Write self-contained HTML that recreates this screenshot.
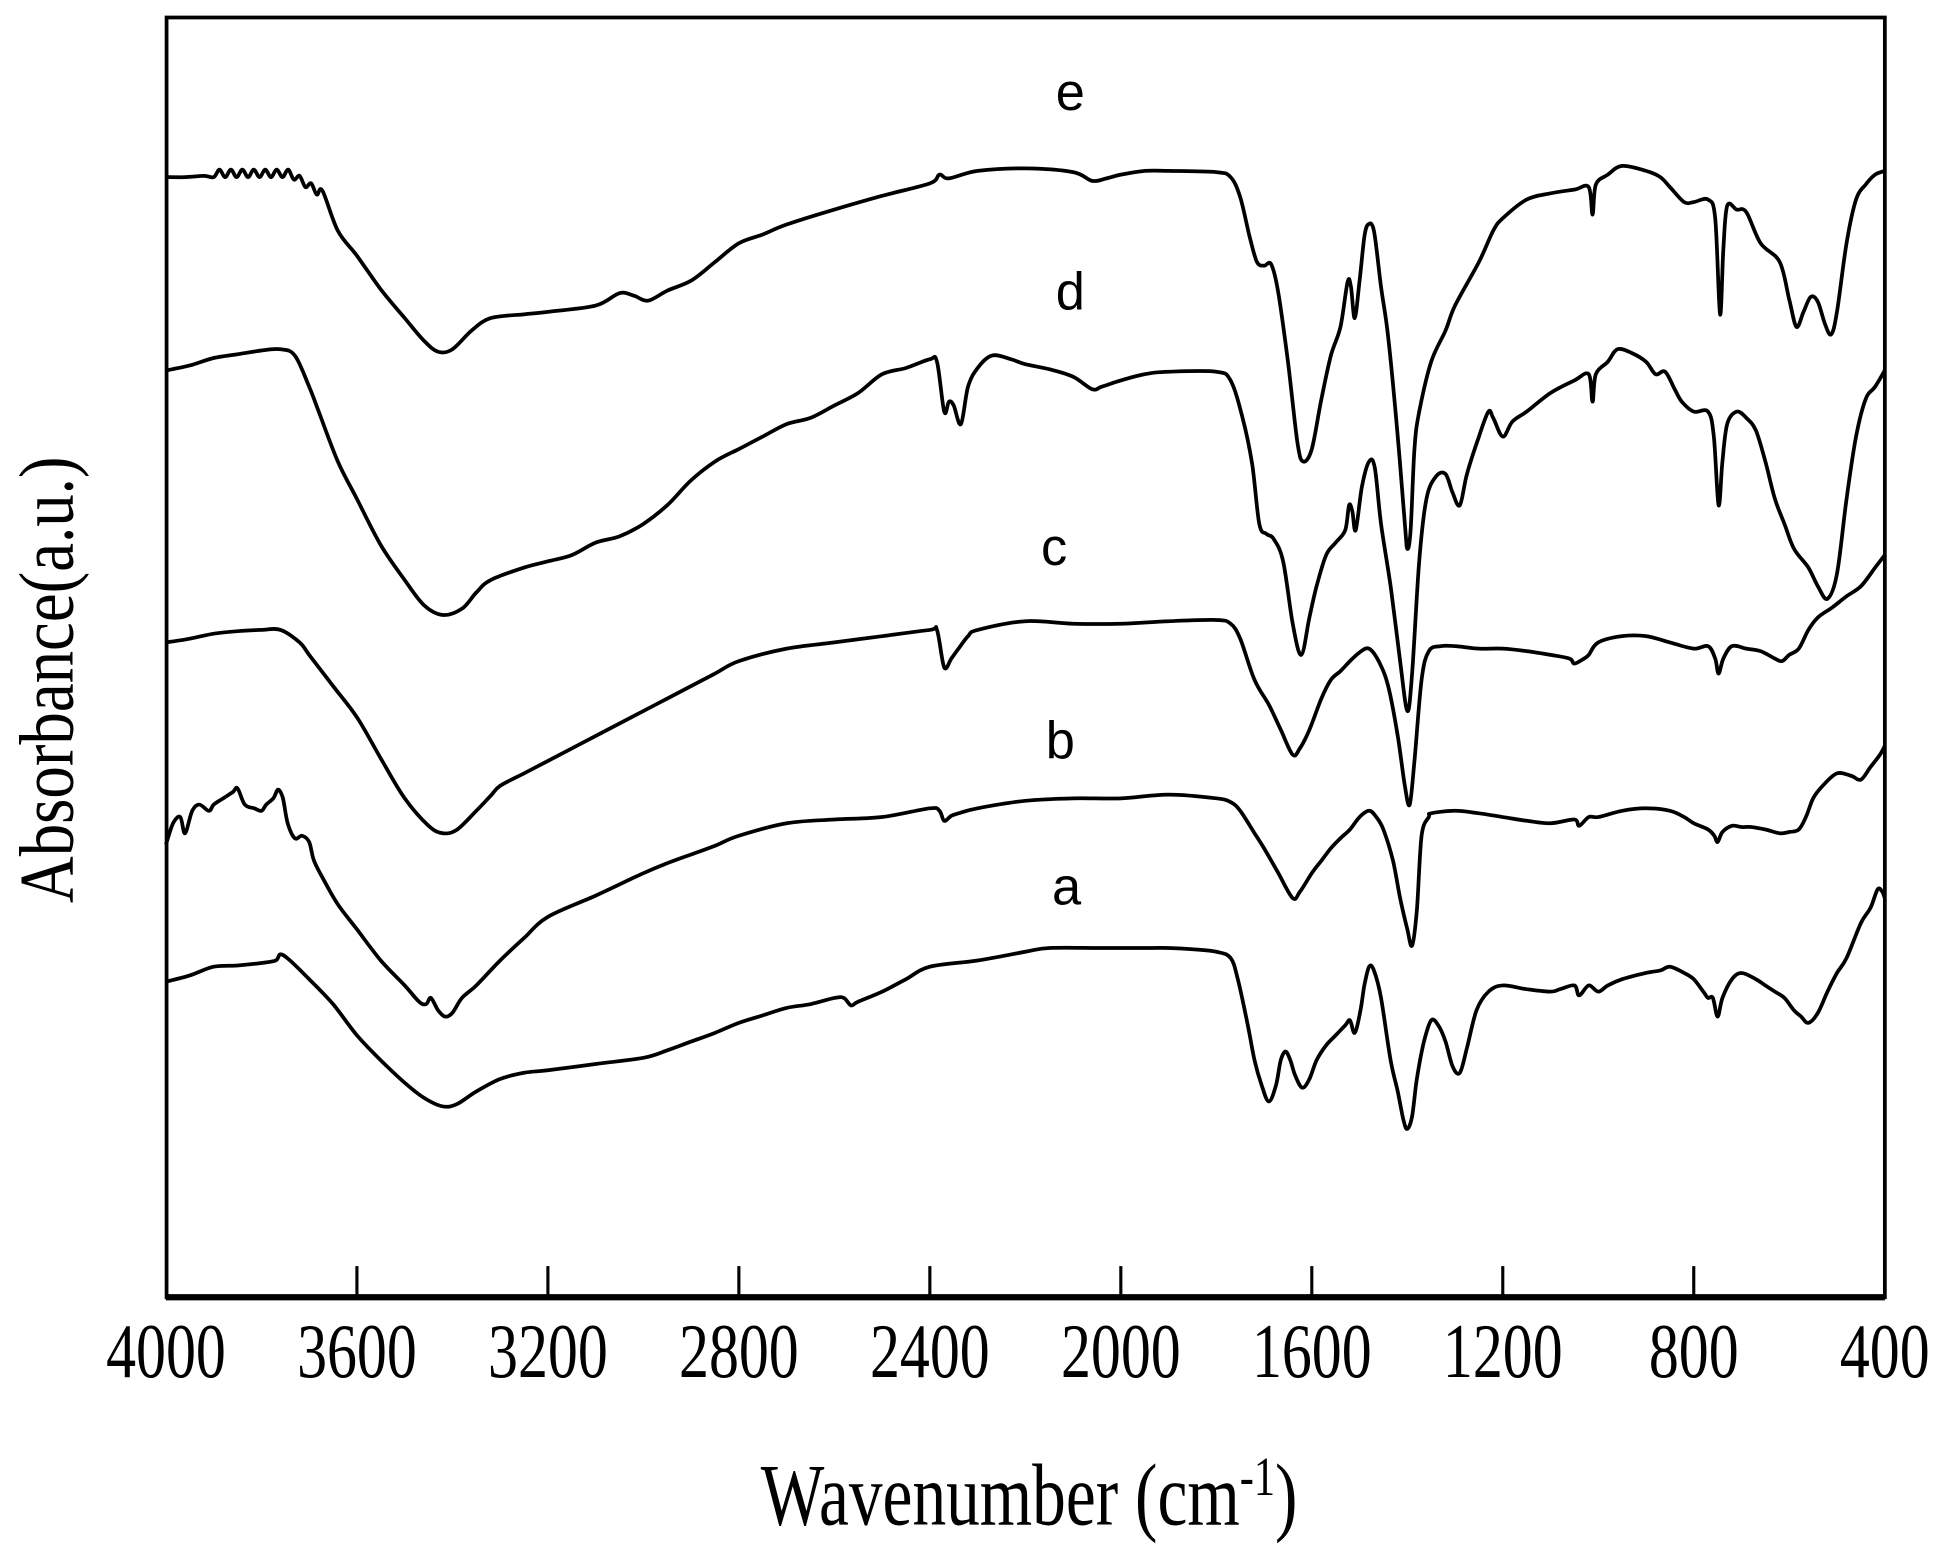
<!DOCTYPE html>
<html><head><meta charset="utf-8"><style>html,body{margin:0;padding:0;background:#fff}svg{display:block}</style></head>
<body>
<svg id="s" width="1956" height="1553" viewBox="0 0 1568 1245" xmlns="http://www.w3.org/2000/svg">
<rect width="1568" height="1245" fill="#fff"/>
<g id="curves" fill="none" stroke="#000" stroke-width="3" stroke-linejoin="round"></g>
<path d="M133.5 14 V1040 H1511 V14 Z" fill="none" stroke="#000" stroke-width="3"/>
<line x1="133" y1="1040" x2="1511" y2="1040" stroke="#000" stroke-width="5"/>
<g id="ticks" stroke="#000" stroke-width="2.5"></g>
<g font-family="Liberation Serif, serif" font-size="48" text-anchor="middle" id="tl"></g>
<text transform="translate(825,1222) scale(1,1.3)" font-family="Liberation Serif, serif" font-size="54" text-anchor="middle">Wavenumber (cm<tspan dy="-18" font-size="34">-1</tspan><tspan dy="18">)</tspan></text>
<text transform="translate(58,545) rotate(-90) scale(1,1.2)" font-family="Liberation Serif, serif" font-size="52" text-anchor="middle">Absorbance(a.u.)</text>
<g font-family="Liberation Sans, sans-serif" font-size="42" text-anchor="middle">
<text x="858" y="88">e</text><text x="858" y="248">d</text><text x="845" y="453">c</text><text x="850" y="608">b</text><text x="855" y="725">a</text>
</g>
</svg>
<script>
var X=function(w){return 133+(4000-w)/400*153.1;};
var ns="http://www.w3.org/2000/svg";
var tk=document.getElementById('ticks'),tl=document.getElementById('tl');
for(var w=4000;w>=400;w-=400){
 var x=X(w);
 if(w<4000&&w>400){var l=document.createElementNS(ns,'line');l.setAttribute('x1',x);l.setAttribute('x2',x);l.setAttribute('y1',1040);l.setAttribute('y2',1015);tk.appendChild(l);}
 var t=document.createElementNS(ns,'text');t.setAttribute('transform','translate('+x+',1104) scale(1,1.3)');t.textContent=w;tl.appendChild(t);
}
var eNoise=[],sg=1;
for(var w=3900;w>=3672;w-=12){var base=w>3740?139:139+(3740-w)*0.25;eNoise.push(w,base+sg*3);sg=-sg;}
var D={
e:[4000,142,3960,142,3920,141].concat(eNoise,[3640,185,3600,205,3550,232,3500,255,3460,273,3430,282,3400,280,3360,265,3320,255,3250,252,3200,250,3100,245,3050,235,3020,237,2990,241,2950,233,2900,225,2850,210,2800,195,2750,188,2700,180,2600,168,2500,157,2400,147,2380,140,2360,143,2300,137,2200,135,2100,138,2060,145,2030,143,2000,140,1950,137,1900,137,1800,138,1770,142,1750,158,1730,190,1715,210,1700,213,1685,212,1670,235,1650,290,1630,355,1618,370,1600,360,1580,320,1560,285,1540,262,1525,226,1518,230,1510,255,1500,225,1490,190,1482,180,1470,185,1455,230,1440,270,1420,350,1405,420,1400,440,1393,425,1385,360,1375,330,1350,290,1320,265,1300,245,1250,210,1220,185,1200,175,1150,160,1100,155,1050,152,1020,150,1012,172,1005,148,980,140,950,133,900,137,870,142,850,150,820,162,800,162,770,160,755,175,745,252,738,200,730,165,710,168,690,170,660,195,620,210,600,240,585,262,570,250,555,238,540,242,525,260,512,268,500,250,480,195,460,160,440,148,420,140,400,137]),
d:[4000,297,3950,293,3900,287,3850,284,3800,281,3760,280,3730,285,3700,310,3680,330,3640,370,3600,400,3550,437,3500,465,3460,485,3420,493,3380,488,3350,475,3320,465,3250,455,3200,450,3150,445,3100,435,3050,430,3000,420,2950,405,2900,385,2850,370,2800,360,2750,350,2700,340,2650,335,2600,325,2550,315,2500,300,2450,295,2400,288,2385,290,2370,330,2360,322,2350,325,2335,340,2320,310,2300,295,2270,285,2230,288,2200,292,2150,296,2100,302,2060,312,2040,310,2000,305,1950,300,1900,298,1800,298,1770,305,1745,335,1725,372,1710,420,1695,428,1680,432,1660,450,1640,500,1622,525,1605,495,1590,470,1570,445,1550,435,1530,425,1522,405,1515,410,1508,425,1495,390,1480,370,1468,375,1455,420,1435,470,1415,530,1400,570,1390,540,1375,450,1360,400,1340,382,1320,380,1305,395,1290,405,1275,380,1250,350,1230,330,1220,335,1200,350,1180,338,1150,330,1100,315,1050,305,1020,300,1012,322,1005,300,980,290,960,280,930,283,900,290,880,300,860,298,840,312,825,322,800,330,770,330,758,350,748,405,740,370,730,340,710,330,690,335,670,345,650,370,630,400,610,420,590,440,560,455,540,470,520,480,500,460,480,400,460,350,440,320,420,310,400,297],
c:[4000,515,3950,512,3900,508,3850,506,3800,505,3760,505,3720,515,3700,525,3650,550,3600,575,3550,608,3500,640,3450,662,3420,668,3390,665,3350,650,3320,638,3300,630,3250,620,3200,610,3100,590,3000,570,2950,560,2900,550,2850,540,2800,530,2700,520,2600,515,2500,510,2400,505,2385,505,2370,535,2355,528,2340,520,2320,510,2300,505,2200,498,2100,500,2000,500,1900,498,1800,497,1770,500,1750,512,1720,545,1690,565,1665,585,1640,605,1625,600,1605,585,1580,560,1560,545,1540,538,1520,530,1500,523,1480,520,1460,530,1440,550,1420,590,1405,630,1395,645,1385,610,1370,545,1355,522,1330,518,1300,518,1250,520,1200,520,1150,522,1100,525,1060,528,1050,532,1030,528,1020,525,1000,515,950,510,900,510,850,515,800,520,770,518,755,528,748,540,738,528,720,518,690,520,660,522,630,528,615,530,600,525,580,520,560,505,540,495,510,487,480,478,450,470,420,455,400,445],
b:[4000,677,3985,660,3970,655,3960,668,3945,650,3930,645,3910,650,3900,645,3880,640,3860,635,3850,632,3835,645,3815,648,3800,650,3790,645,3775,640,3765,633,3755,640,3745,660,3730,672,3715,670,3700,675,3690,690,3670,705,3640,725,3600,745,3550,770,3500,790,3470,803,3455,805,3445,800,3430,810,3415,815,3400,812,3380,800,3350,790,3300,770,3250,752,3200,735,3100,718,3000,700,2950,692,2900,685,2850,678,2800,670,2700,660,2600,657,2500,655,2400,648,2380,650,2370,658,2355,654,2340,652,2300,648,2200,642,2100,640,2000,640,1900,637,1800,640,1770,643,1750,650,1720,668,1700,680,1670,700,1640,720,1625,715,1600,700,1580,690,1560,680,1540,672,1520,665,1500,655,1480,650,1465,655,1450,665,1430,690,1415,720,1400,745,1390,758,1380,730,1370,670,1355,655,1350,652,1300,650,1250,652,1200,655,1150,658,1100,660,1050,657,1040,662,1020,655,1000,655,950,650,900,648,850,650,820,655,800,660,770,665,757,670,750,675,740,667,720,662,700,663,680,663,650,665,620,668,600,667,580,665,565,655,550,640,530,630,500,620,470,622,450,625,430,615,410,605,400,598],
a:[4000,787,3950,782,3900,775,3850,774,3800,772,3770,770,3760,765,3740,770,3700,785,3650,805,3600,830,3550,850,3500,868,3460,880,3420,887,3390,885,3350,875,3300,865,3250,860,3200,858,3100,853,3000,848,2950,842,2900,835,2850,828,2800,820,2750,814,2700,808,2650,805,2600,800,2580,800,2565,806,2550,803,2500,795,2450,785,2400,775,2300,770,2200,763,2150,760,2050,760,2000,760,1950,760,1900,760,1850,761,1800,763,1770,768,1755,785,1735,820,1720,850,1705,870,1690,883,1675,870,1665,850,1655,843,1645,850,1635,862,1620,872,1605,865,1590,850,1570,838,1550,830,1530,822,1520,818,1510,828,1498,810,1490,790,1480,775,1470,778,1455,800,1435,850,1420,875,1408,898,1400,905,1390,895,1380,865,1365,835,1350,818,1335,822,1320,835,1305,855,1290,860,1275,840,1255,810,1230,795,1200,790,1150,793,1100,795,1080,793,1050,790,1040,798,1020,790,1000,795,980,790,950,785,900,780,870,778,850,775,820,780,800,785,780,795,770,800,760,800,750,815,740,800,720,785,700,780,670,785,650,790,630,795,610,800,590,810,575,815,560,820,540,812,520,795,500,780,480,768,450,740,430,728,415,713,405,715,400,720]
};
var g=document.getElementById('curves');
for(var k in D){var a=D[k],p=[];for(var i=0;i<a.length;i+=2)p.push([X(a[i]),a[i+1]]);
 var s='M'+p[0][0].toFixed(1)+' '+p[0][1];
 for(var i=0;i<p.length-1;i++){var p0=p[i-1]||p[i],p1=p[i],p2=p[i+1],p3=p[i+2]||p2;
  var c1x=p1[0]+(p2[0]-p0[0])/6,c1y=p1[1]+(p2[1]-p0[1])/6,c2x=p2[0]-(p3[0]-p1[0])/6,c2y=p2[1]-(p3[1]-p1[1])/6;
  s+=' C'+c1x.toFixed(1)+' '+c1y.toFixed(1)+' '+c2x.toFixed(1)+' '+c2y.toFixed(1)+' '+p2[0].toFixed(1)+' '+p2[1];}
 var e=document.createElementNS(ns,'path');e.setAttribute('d',s);g.appendChild(e);}
</script>
</body></html>
